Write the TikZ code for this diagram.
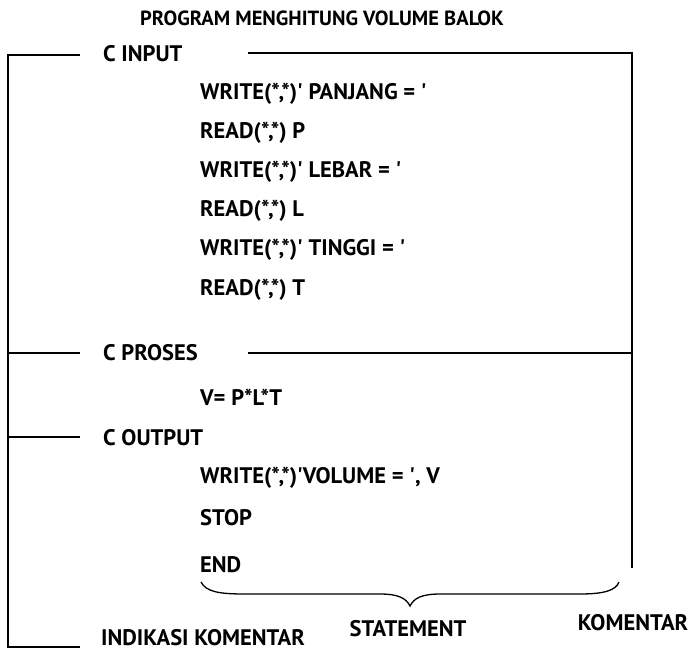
\documentclass[tikz,border=0pt]{standalone}
\usepackage{fontspec}
\setmainfont{PT Sans}
\newcommand{\myq}{\textquotesingle}
\begin{document}
\begin{tikzpicture}[x=1pt,y=-1pt,
  ln/.style={line width=1.3pt,black},
  stmt/.style={anchor=west,inner sep=0pt,font=\bfseries\fontsize{22.5}{22.5}\selectfont},
  lbl/.style={anchor=west,inner sep=0pt,font=\bfseries\fontsize{22.5}{22.5}\selectfont},
  ttl/.style={inner sep=0pt,font=\bfseries\fontsize{20.5}{20.5}\selectfont}]
\useasboundingbox (0,0) rectangle (698,651);
% title
\node[ttl] (title) at (322,18) {PROGRAM MENGHITUNG VOLUME BALOK};
% frame coordinates
\coordinate (lt) at (8,55);
\coordinate (lb) at (8,647);
\coordinate (t1) at (80,55);
\coordinate (p0) at (8,353);
\coordinate (p1) at (80,353);
\coordinate (o0) at (8,437);
\coordinate (o1) at (80,437);
\coordinate (b1) at (80,647);
\coordinate (rt0) at (248,53);
\coordinate (rt) at (632,53);
\coordinate (rb) at (632,568);
\coordinate (rp0) at (248,353);
\coordinate (rp) at (632,353);
% labels
\node[lbl] (cin) at (103,54) {C INPUT};
\node[lbl] (cpr) at (103,353) {C PROSES};
\node[lbl] (cout) at (103,438) {C OUTPUT};
\node[lbl] (ind) at (101,638) {INDIKASI KOMENTAR};
% statements
\node[stmt] (s1) at (200,94) {WRITE(*,*)\myq{} PANJANG = \myq};
\node[stmt] (s2) at (200,133) {READ(*,*) P};
\node[stmt] (s3) at (200,172) {WRITE(*,*)\myq{} LEBAR = \myq};
\node[stmt] (s4) at (200,211) {READ(*,*) L};
\node[stmt] (s5) at (200,250) {WRITE(*,*)\myq{} TINGGI = \myq};
\node[stmt] (s6) at (200,290) {READ(*,*) T};
\node[stmt] (s7) at (200,397) {V= P*L*T};
\node[stmt] (s8) at (200,478) {WRITE(*,*)\myq VOLUME = \myq, V};
\node[stmt] (s9) at (200,518) {STOP};
\node[stmt] (s10) at (200,565) {END};
\node[lbl,anchor=center] (stm) at (408,629) {STATEMENT};
\node[lbl,anchor=center] (kom) at (633,623) {KOMENTAR};
% lines
\draw[ln] (t1) -- (lt) -- (lb) -- (b1);
\draw[ln] (p0) -- (p1);
\draw[ln] (o0) -- (o1);
\draw[ln] (rt0) -- (rt) -- (rb);
\draw[ln] (rp0) -- (rp);
% brace
\coordinate (bl) at (201,582);
\coordinate (br) at (619,582);
\coordinate (tip) at (410,606);
\draw[ln] (bl) .. controls (206,592) and (220,594) .. (245,594)
  -- (380,594) .. controls (398,594) and (406,598) .. (tip)
  .. controls (414,598) and (422,594) .. (440,594)
  -- (580,594) .. controls (605,594) and (616,590) .. (br);
\end{tikzpicture}
\end{document}
